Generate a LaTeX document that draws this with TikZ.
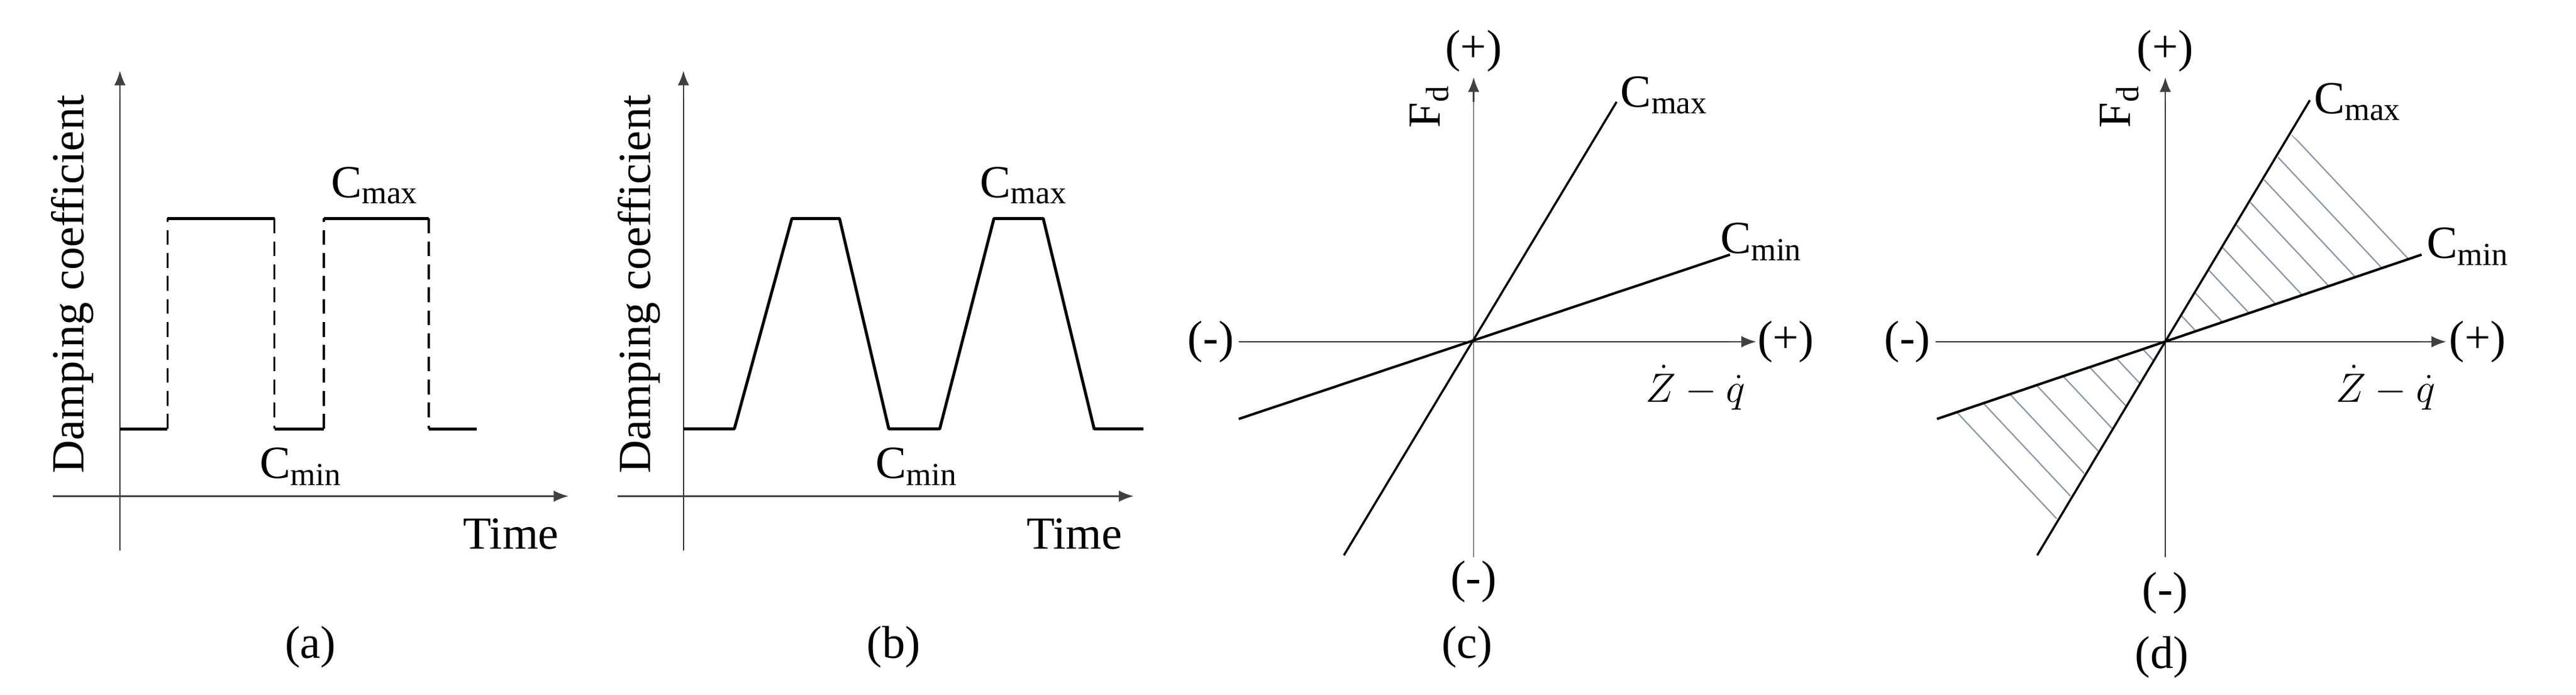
\documentclass[tikz,border=0pt]{standalone}
\usepackage{fontspec}
\setmainfont{Liberation Serif}
\usetikzlibrary{arrows.meta}
\definecolor{hatchc}{RGB}{135,150,170}
\begin{document}
\begin{tikzpicture}[x=1pt,y=-1pt,
  axis/.style={line width=0.9pt,draw=black!75,-{Latex[length=9pt,width=7pt]}},
  thinax/.style={line width=0.6pt,draw=black!80},
  curve/.style={line width=1.8pt},
  lbl/.style={font=\fontsize{28}{30}\selectfont,inner sep=0pt},
  hatch/.style={line width=0.8pt,draw=hatchc}]
\useasboundingbox (0,0) rectangle (1568,423);
% ---- (a)
\coordinate (ay0) at (73,335); \coordinate (ay1) at (73,43);
\coordinate (ax0) at (32,302); \coordinate (ax1) at (346,302);
\draw[thinax] (ay0) -- (73,60); \draw[axis] (73,60) -- (ay1);
\draw[axis] (ax0) -- (ax1);
\draw[curve] (73,261) -- (102,261) (102,133) -- (167,133) (167,261) -- (197,261) (197,133) -- (261,133) (261,261) -- (290,261);
\draw[line width=1.3pt,dash pattern=on 9pt off 5pt] (102,261) -- (102,133) (167,133) -- (167,261) (197,261) -- (197,133) (261,133) -- (261,261);
\node[lbl] (acmax) at (228,113) {C\textsubscript{max}};
\node[lbl] (acmin) at (183,284) {C\textsubscript{min}};
\node[lbl] (atime) at (311,325) {Time};
\node[lbl,rotate=90] (aylab) at (44,173) {Damping coefficient};
\node[lbl] (acap) at (189,394) {(a)};
% ---- (b)
\coordinate (by0) at (416,335); \coordinate (by1) at (416,43);
\coordinate (bx0) at (376,302); \coordinate (bx1) at (690,302);
\draw[thinax] (by0) -- (416,60); \draw[axis] (416,60) -- (by1);
\draw[axis] (bx0) -- (bx1);
\draw[curve,line join=round] (416,261) -- (447,261) -- (482,133) -- (511,133) -- (541,261) -- (572,261) -- (605,133) -- (635,133) -- (666,261) -- (696,261);
\node[lbl] (bcmax) at (623,113) {C\textsubscript{max}};
\node[lbl] (bcmin) at (558,284) {C\textsubscript{min}};
\node[lbl] (btime) at (654,325) {Time};
\node[lbl,rotate=90] (bylab) at (389,173) {Damping coefficient};
\node[lbl] (bcap) at (544,394) {(b)};
% ---- (c)
\coordinate (co) at (897,208);
\draw[thinax] (897,339) -- (897,60); \draw[axis] (897,62) -- (897,47);
\draw[thinax] (754,208) -- (1055,208); \draw[axis] (1053,208) -- (1069,208);
\draw[line width=1.3pt] (818,338) -- (984,62);
\draw[line width=1.5pt] (754,255) -- (1053,155);
\node[lbl] (cplus) at (897,31) {(+)};
\node[lbl] (cminus) at (897,354) {(-)};
\node[lbl] (cleft) at (737,208) {(-)};
\node[lbl] (cright) at (1087,208) {(+)};
\node[lbl,rotate=90] (cfd) at (870,65) {F\textsubscript{d}};
\node[lbl] (ccmax) at (1013,58) {C\textsubscript{max}};
\node[lbl] (ccmin) at (1072,147) {C\textsubscript{min}};
\node[lbl] (czq) at (1032,236) {$\dot{Z}-\dot{q}$};
\node[lbl] (ccap) at (893,394) {(c)};
% ---- (d)
\begin{scope}
\clip (1318,208) -- (1395,82) -- (1474,155) -- cycle;
\foreach \t in {-6,...,12} \draw[hatch] ({1318+\t*11},{208-\t*11-140}) -- ++(150,160);
\end{scope}
\begin{scope}
\clip (1318,208) -- (1179,255) -- (1251,317) -- cycle;
\foreach \t in {-14,...,2} \draw[hatch] ({1318+\t*11},{208-\t*11-140}) -- ++(150,160);
\end{scope}
\draw[thinax] (1318,339) -- (1318,60); \draw[axis] (1318,62) -- (1318,47);
\draw[thinax] (1178,208) -- (1475,208); \draw[axis] (1473,208) -- (1489,208);
\draw[line width=1.3pt] (1240,338) -- (1406,61);
\draw[line width=1.5pt] (1179,255) -- (1474,155);
\node[lbl] (dplus) at (1318,31) {(+)};
\node[lbl] (dminus) at (1318,361) {(-)};
\node[lbl] (dleft) at (1161,208) {(-)};
\node[lbl] (dright) at (1508,208) {(+)};
\node[lbl,rotate=90] (dfd) at (1290,65) {F\textsubscript{d}};
\node[lbl] (dcmax) at (1435,62) {C\textsubscript{max}};
\node[lbl] (dcmin) at (1502,150) {C\textsubscript{min}};
\node[lbl] (dzq) at (1452,236) {$\dot{Z}-\dot{q}$};
\node[lbl] (dcap) at (1316,400) {(d)};
\end{tikzpicture}
\end{document}
